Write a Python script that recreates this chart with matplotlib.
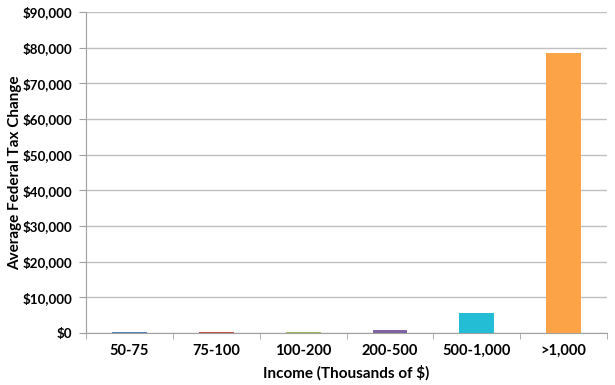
import matplotlib.pyplot as plt
import numpy as np
from matplotlib.ticker import FuncFormatter

categories = ["50-75", "75-100", "100-200", "200-500", "500-1,000", ">1,000"]
values = [250, 220, 200, 950, 5600, 78500]
colors = ["#4f81bd", "#c0504d", "#9bbb59", "#8064a2", "#23bdd5", "#fba346"]

plt.rcParams["font.family"] = ["Lato", "DejaVu Sans"]
plt.rcParams["font.weight"] = "bold"

fig = plt.figure(figsize=(6.15, 3.85), dpi=100)
ax = fig.add_axes([0.14, 0.135, 0.847, 0.834])

x = np.arange(len(categories))
ax.bar(x, values, width=0.4, color=colors, zorder=3)

ax.set_xlim(-0.5, len(categories) - 0.5)
ax.set_ylim(0, 90000)
ax.set_yticks(np.arange(0, 90001, 10000))
ax.yaxis.set_major_formatter(FuncFormatter(lambda v, p: "${:,.0f}".format(v)))
ax.grid(axis="y", color="#c0c0c0", lw=1, zorder=0)

ax.set_xticks(x)
ax.set_xticklabels(categories, fontsize=10.5, fontweight="bold")
ax.set_xticks(np.arange(-0.5, len(categories)), minor=True)
ax.tick_params(axis="x", which="major", length=0, pad=8)
ax.tick_params(axis="x", which="minor", length=4, color="#a0a0a0")
ax.tick_params(axis="y", length=5, color="#a0a0a0", labelsize=9.6, pad=5)
for lbl in ax.get_yticklabels():
    lbl.set_fontweight("bold")

for s in ["top", "right"]:
    ax.spines[s].set_visible(False)
ax.spines["left"].set_color("#a0a0a0")
ax.spines["bottom"].set_color("#a0a0a0")

ax.set_xlabel("Income (Thousands of $)", fontsize=11, fontweight="bold", labelpad=5)
ax.set_ylabel("Average Federal Tax Change", fontsize=11, fontweight="bold")
ax.yaxis.set_label_coords(-0.122, 0.5)

fig.savefig("out.png", dpi=100)
